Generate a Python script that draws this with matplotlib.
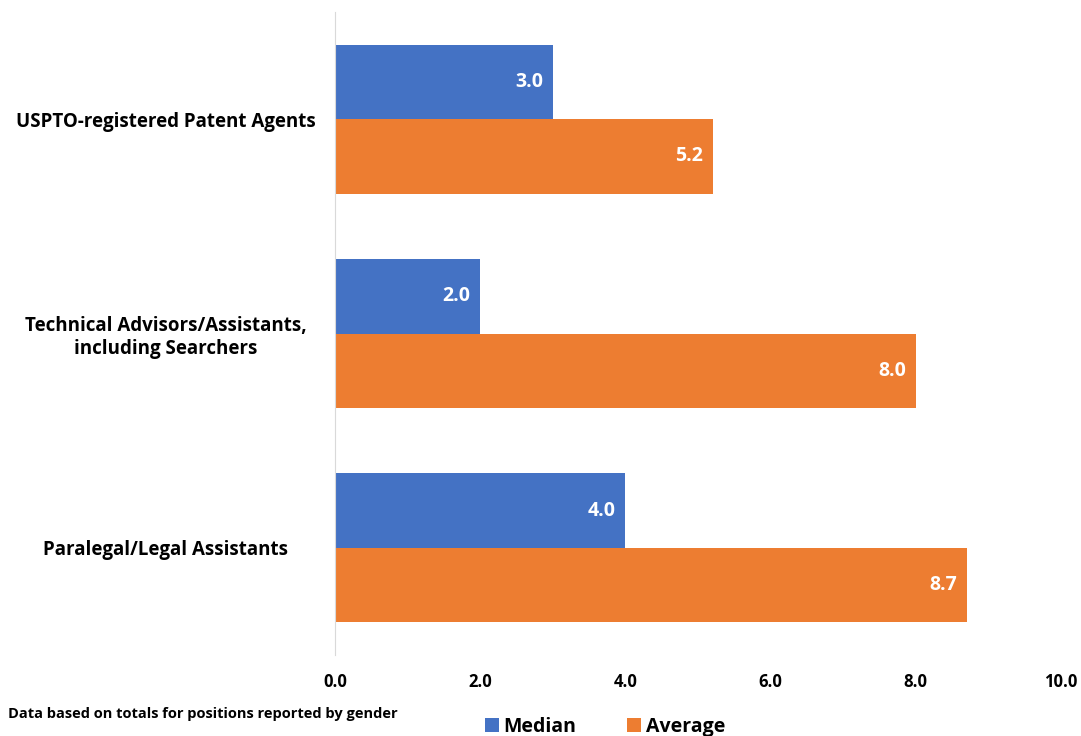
import matplotlib
matplotlib.use("Agg")
import matplotlib.pyplot as plt
import numpy as np

categories = ["USPTO-registered Patent Agents",
              "Technical Advisors/Assistants,\nincluding Searchers",
              "Paralegal/Legal Assistants"]
median = [3.0, 2.0, 4.0]
average = [5.2, 8.0, 8.7]
xticks = [0, 2, 4, 6, 8, 10]

plt.rcParams['font.family'] = ['Open Sans', 'DejaVu Sans']
plt.rcParams['font.weight'] = 'bold'

blue = '#4472C4'
orange = '#ED7D31'

fig = plt.figure(figsize=(10.81, 7.36), dpi=100)
ax = fig.add_axes([335/1081, (736-655)/736, (1061-335)/1081, (655-12)/736])

y = np.arange(len(categories))
h = 0.347
b1 = ax.barh(y - h/2, median, height=h, color=blue, label='Median')
b2 = ax.barh(y + h/2, average, height=h, color=orange, label='Average')

for bars, vals in ((b1, median), (b2, average)):
    for bar, v in zip(bars, vals):
        ax.annotate(f"{v:.1f}", (v, bar.get_y() + bar.get_height()/2),
                    xytext=(-7, 0), textcoords='offset points',
                    ha='right', va='center', color='white',
                    fontsize=14, fontweight='bold')

ax.set_xlim(0, 10)
ax.set_ylim(2.5, -0.5)
ax.set_xticks(xticks)
ax.set_xticklabels([f"{t:.1f}" for t in xticks], fontsize=12, fontweight='bold')
ax.set_yticks(y)
ax.set_yticklabels(categories, fontsize=13.5, fontweight='bold', ha='center',
                   linespacing=1.2)
ax.tick_params(axis='y', length=0, pad=122)
ax.tick_params(axis='x', length=0, pad=13)
for s in ['top', 'right', 'bottom']:
    ax.spines[s].set_visible(False)
ax.spines['left'].set_color('#D9D9D9')

fig.text(8/1081, 1 - 714/736, "Data based on totals for positions reported by gender",
         fontsize=10.5, fontweight='bold', va='center', ha='left')

leg = fig.legend(handles=[b1, b2], loc='center', bbox_to_anchor=(605/1081, 1 - 727/736),
                 ncol=2, frameon=False, fontsize=14, handlelength=0.7, handleheight=0.7,
                 columnspacing=2.6, handletextpad=0.25)
for t in leg.get_texts():
    t.set_fontweight('bold')

fig.savefig("out.png", dpi=100)
